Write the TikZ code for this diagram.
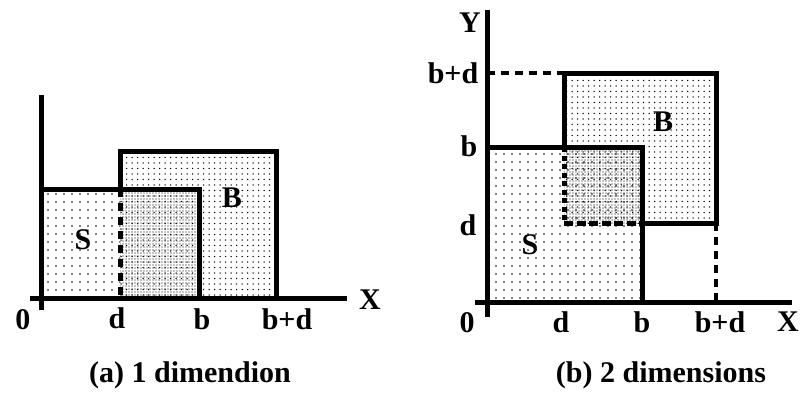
\documentclass[tikz,border=0pt]{standalone}
\usepackage{fontspec}
\setmainfont{Liberation Serif}
\usetikzlibrary{patterns.meta}

\begin{document}
\begin{tikzpicture}
  [x=1pt,y=-1pt,every node/.style={font=\bfseries\fontsize{30}{32}\selectfont,inner sep=0pt},
   borde/.style={line width=5pt},
   guia/.style={line width=4pt,dash pattern=on 8pt off 6pt},
   pocos/.style={pattern={Dots[distance=8pt,radius=.8pt]}},
   medios/.style={pattern={Dots[distance=5.5pt,radius=.75pt]}},
   muchos/.style={pattern={Dots[distance=3pt,radius=.6pt]}}]
  \useasboundingbox (0,0) rectangle (800,394);

  % Grafico (a): una dimension
  \coordinate (o1) at (41.5,298);
  \coordinate (d1) at (120,298);
  \coordinate (b1) at (199,298);
  \coordinate (bd1) at (276,298);
  \coordinate (st1) at (41.5,189);
  \coordinate (sb1) at (199,189);
  \coordinate (bt1) at (120,151);
  \coordinate (bb1) at (276,151);
  \coordinate (dm1) at (120,189);

  \fill[pocos] (st1) rectangle (d1);
  \fill[medios] (bt1) rectangle (bd1);
  \fill[muchos] (dm1) rectangle (b1);

  \draw[borde] (30,298) -- (347,298);
  \draw[borde] (41.5,95) -- (41.5,310);
  \draw[borde] (st1) -- (sb1) -- (b1);
  \draw[borde] (dm1) -- (bt1) -- (bb1) -- (bd1);
  \draw[borde,dash pattern=on 8pt off 6pt] (dm1) -- (d1);

  \node (l0a) at (23,320) {0};
  \node (lda) at (117,318) {d};
  \node (lba) at (202,319) {b};
  \node (lbda) at (287,319) {b+d};
  \node (lxa) at (370,300) {X};
  \node (lsa) at (83,240) {S};
  \node (lBa) at (232,198) {B};

  % Grafico (b): dos dimensiones
  \coordinate (o2) at (487,302);
  \coordinate (st2) at (487,147);
  \coordinate (sb2) at (642,147);
  \coordinate (sr2) at (642,302);
  \coordinate (b2) at (564,147);
  \coordinate (bt2) at (564,73);
  \coordinate (br2) at (716,73);
  \coordinate (bd2) at (716,223);
  \coordinate (dm2) at (642,223);
  \coordinate (dd2) at (564,223);
  \coordinate (yb2) at (487,73);
  \coordinate (xb2) at (716,302);

  \fill[pocos] (st2) rectangle (sr2);
  \fill[medios] (bt2) rectangle (bd2);
  \fill[muchos] (b2) rectangle (dm2);

  \draw[borde] (475,302) -- (792,302);
  \draw[borde] (487,10) -- (487,317);
  \draw[borde] (st2) -- (sb2) -- (sr2);
  \draw[borde] (b2) -- (bt2) -- (br2) -- (bd2) -- (dm2);
  \draw[borde,dash pattern=on 5pt off 3.5pt] (b2) -- (dd2);
  \draw[borde,dash pattern=on 9pt off 3.5pt] (dd2) -- (dm2);
  \foreach \from/\to in {yb2/bt2, bd2/xb2}
    \draw[guia] (\from) -- (\to);

  \node (l0b) at (467,323) {0};
  \node (ldb) at (561,322) {d};
  \node (lbb) at (642,322) {b};
  \node (lbdb) at (720,322) {b+d};
  \node (lxb) at (788,322) {X};
  \node (lyb) at (470,23) {Y};
  \node (lbdy) at (453,73) {b+d};
  \node (lby) at (469,146) {b};
  \node (ldy) at (468,225) {d};
  \node (lsb) at (530,245) {S};
  \node (lBb) at (663,122) {B};

  % Etiquetas debajo de cada grafico
  \node (capa) at (190,375) {(a) 1 dimendion};
  \node (capb) at (661,375) {(b) 2 dimensions};

\end{tikzpicture}
\end{document}
